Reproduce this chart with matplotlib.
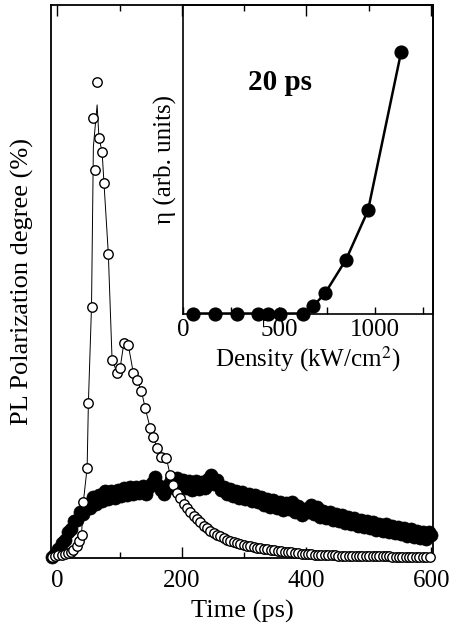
import matplotlib
matplotlib.use("Agg")
import matplotlib.pyplot as plt
from matplotlib.ticker import MultipleLocator, NullLocator

plt.rcParams['font.family'] = ['Liberation Serif', 'DejaVu Serif']
plt.rcParams['mathtext.fontset'] = 'stix'

# ---- main panel: open circles (time in ps, polarization degree, arb. scale) ----
open_t = [-8, -3, 2, 7, 12, 17, 22, 26, 31, 35, 39, 42, 48, 50, 55, 58, 61, 64, 67, 72,
          75, 82, 88, 96, 101, 107, 114, 122, 128, 135, 141, 149, 154, 160, 167, 175, 181, 186,
          192, 197, 203, 208, 213, 219, 224, 229, 235, 240, 245, 251, 256, 261, 267, 272, 277,
          283, 288, 294, 299, 305, 310, 316, 321, 326, 332, 337, 343, 348, 354, 359, 365, 370,
          375, 381, 386, 392, 397, 403, 408, 413, 419, 424, 430, 435, 441, 446, 451, 457, 462,
          468, 473, 479, 484, 489, 495, 500, 506, 511, 516, 522, 527, 533, 538, 543, 549, 554,
          560, 565, 570, 576, 581, 587, 592, 598]
open_v = [0, 1, 2, 2, 3, 4, 5, 7, 11, 16, 22, 55, 89, 154, 250, 439, 387, 475, 419, 405,
          374, 303, 197, 184, 189, 214, 212, 184, 177, 166, 149, 129, 120, 109, 100, 99, 82, 72,
          64, 59, 53, 49, 45, 41, 38, 35, 31, 29, 26, 24, 22, 21, 19, 17, 16,
          15, 14, 13, 12, 11, 11, 10, 9, 9, 8, 8, 7, 7, 6, 6, 5, 5,
          5, 4, 4, 3, 3, 3, 3, 2, 2, 2, 2, 2, 2, 2, 1, 1, 1,
          1, 1, 1, 1, 1, 1, 1, 1, 1, 1, 1, 1, 1, 0, 0, 0, 0,
          0, 0, 0, 0, 0, 0, 0, 0]

# thin guide line through the open circles (peak drawn lower than top circle)
line_peak_t = [58, 64]
line_peak_v = [410, 452]
line_skip_t = [58, 61, 64]

# ---- main panel: filled circles ----
fill_t = [-8, -3, 2, 7, 12, 17, 22, 27, 32, 37, 42, 47, 52, 57, 62, 67, 72, 77, 82, 87,
          92, 97, 102, 107, 112, 117, 122, 127, 132, 137, 142, 147, 152, 157, 162, 167, 172,
          177, 182, 187, 192, 197, 202, 207, 212, 217, 222, 227, 232, 237, 242, 247, 252, 257,
          262, 267, 272, 277, 282, 287, 292, 297, 302, 307, 312, 317, 322, 327, 332, 337, 342,
          347, 352, 357, 362, 367, 372, 377, 382, 387, 392, 397, 402, 407, 412, 417, 422, 427,
          432, 437, 442, 447, 452, 457, 462, 467, 472, 477, 482, 487, 492, 497, 502, 507, 512,
          517, 522, 527, 532, 537, 542, 547, 552, 557, 562, 567, 572, 577, 582, 587, 592, 597, 600]
fill_v = [0, 3, 8, 14, 17, 25, 28, 36, 37, 45, 43, 53, 49, 60, 53, 62, 56, 66, 58, 66,
          59, 67, 61, 69, 62, 70, 63, 70, 64, 71, 63, 70, 74, 80, 72, 67, 63,
          72, 77, 69, 79, 71, 77, 69, 76, 67, 76, 68, 75, 69, 78, 82, 73, 77,
          67, 70, 63, 68, 61, 66, 59, 65, 58, 63, 56, 62, 55, 60, 52, 58, 50,
          57, 49, 55, 47, 54, 48, 55, 45, 51, 42, 48, 45, 52, 43, 50, 40, 46,
          39, 45, 37, 43, 36, 42, 34, 40, 33, 39, 31, 37, 30, 36, 29, 35, 27,
          33, 26, 33, 25, 31, 24, 30, 23, 29, 21, 28, 20, 26, 19, 25, 18, 25, 22]

# ---- inset: eta vs density ----
dens = [52, 166, 281, 390, 442, 504, 624, 676, 738, 848, 962, 1134]
eta = [0, 0, 0, 0, 0, 0, 0, 0.023, 0.065, 0.175, 0.334, 0.847]

main_xticks_major = [0, 200, 400, 600]
inset_xticks = [0, 500, 1000]

W, H = 453, 635
fig = plt.figure(figsize=(W / 100, H / 100), dpi=100)

def rect(l, r, t, b):
    return [l / W, 1 - b / H, (r - l) / W, (b - t) / H]

ax = fig.add_axes(rect(51, 433, 5, 557.5))
ax.plot(fill_t, fill_v, 'o', ms=9.4, mfc='black', mec='black', mew=0.5, zorder=2,
        clip_on=False)

lt, lv = [], []
for t, v in zip(open_t, open_v):
    if t not in line_skip_t:
        lt.append(t); lv.append(v)
for t, v in zip(line_peak_t, line_peak_v):
    lt.append(t); lv.append(v)
order = sorted(range(len(lt)), key=lambda i: lt[i])
ax.plot([lt[i] for i in order], [lv[i] for i in order], '-', color='black', lw=0.7, zorder=3)
ax.plot(open_t, open_v, 'o', ms=6.8, mfc='white', mec='black', mew=1.0, zorder=4,
        clip_on=False)

ax.set_xlim(-10, 603)
ax.set_ylim(-1, 552)
ax.set_xticks(main_xticks_major)
ax.xaxis.set_minor_locator(MultipleLocator(100))
ax.yaxis.set_major_locator(NullLocator())
ax.tick_params(axis='x', which='both', direction='in', top=True, bottom=True, width=1.0,
               labelsize=18, pad=9)
ax.tick_params(axis='x', which='major', length=8)
ax.tick_params(axis='x', which='minor', length=4.3)
for s in ax.spines.values():
    s.set_linewidth(1.3)
ax.set_xlabel('Time (ps)', fontsize=19, labelpad=6)
ax.set_ylabel('PL Polarization degree (%)', fontsize=19, labelpad=12)

# inset
ins = fig.add_axes(rect(183, 433, 5, 313.5))
ins.plot(dens, eta, '-', color='black', lw=1.8, zorder=2)
ins.plot(dens, eta, 'o', ms=9.2, mfc='black', mec='black', zorder=3, clip_on=False)
ins.set_xlim(0, 1300)
ins.set_ylim(0, 1)
ins.set_xticks(inset_xticks)
ins.xaxis.set_minor_locator(MultipleLocator(250))
ins.yaxis.set_major_locator(NullLocator())
ins.tick_params(axis='x', which='both', direction='in', length=5, width=1.0,
                labelsize=18, pad=4)
for s in ins.spines.values():
    s.set_linewidth(1.2)
ins.patch.set_alpha(0)
ins.set_xlabel('Density (kW/cm$^2$)', fontsize=18, labelpad=2)
ins.set_ylabel('η (arb. units)', fontsize=18, labelpad=4)
ins.text(0.39, 0.75, '20 ps', transform=ins.transAxes, fontsize=21, fontweight='bold',
         ha='center', va='center')

fig.savefig('out.png', dpi=100)
